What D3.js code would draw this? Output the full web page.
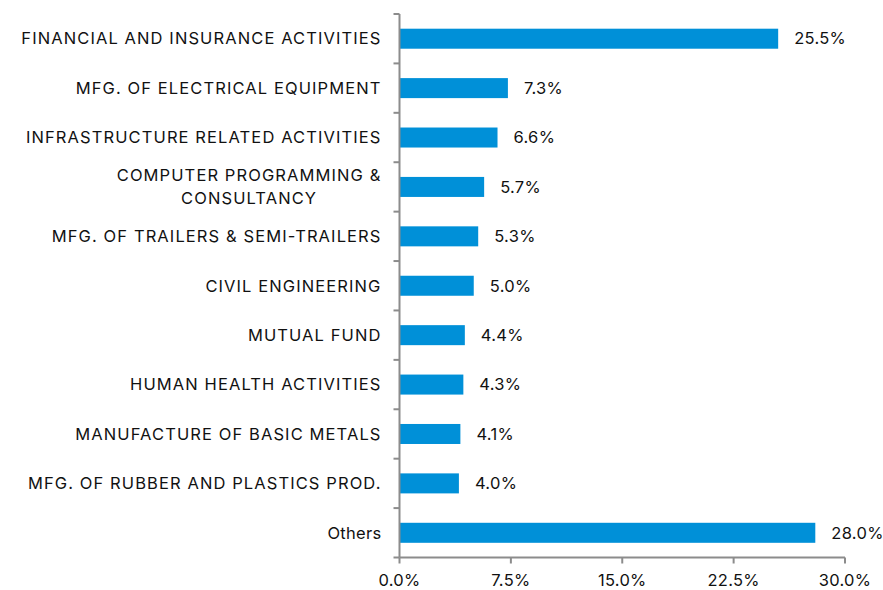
<!DOCTYPE html>
<html><head><meta charset="utf-8">
<script src="https://cdn.jsdelivr.net/npm/d3@7"></script>
<style>body{margin:0;background:#fff}svg{display:block}text{font-family:Inter,"Noto Sans",sans-serif;fill:#111}</style>
</head><body><svg id="c" width="883" height="590"></svg>
<script>
const categories = ["FINANCIAL AND INSURANCE ACTIVITIES","MFG. OF ELECTRICAL EQUIPMENT","INFRASTRUCTURE RELATED ACTIVITIES","COMPUTER PROGRAMMING &\nCONSULTANCY","MFG. OF TRAILERS & SEMI-TRAILERS","CIVIL ENGINEERING","MUTUAL FUND","HUMAN HEALTH ACTIVITIES","MANUFACTURE OF BASIC METALS","MFG. OF RUBBER AND PLASTICS PROD.","Others"];
const values = [25.5,7.3,6.6,5.7,5.3,5.0,4.4,4.3,4.1,4.0,28.0];
const xTicks = [0,7.5,15,22.5,30];

const svg = d3.select("#c");
const FS = 16.5;
const m = {l:399.5, r:845, t:14, b:557.5};
const x = d3.scaleLinear().domain([0,30]).range([m.l,m.r]);
const y = d3.scaleBand().domain(categories).range([m.t,m.b]).paddingInner(0.595).paddingOuter(0.2975);
const band = (m.b-m.t)/categories.length;

svg.selectAll("rect.bar").data(categories).join("rect")
  .attr("x", x(0)).attr("y", d=>y(d))
  .attr("width", (d,i)=>x(values[i])-x(0)).attr("height", y.bandwidth())
  .attr("fill","#0090d8");

svg.selectAll("text.val").data(categories).join("text")
  .attr("x",(d,i)=>x(values[i])+16).attr("y",d=>y(d)+y.bandwidth()/2)
  .attr("dy","0.35em").attr("font-size",FS).attr("letter-spacing","0.3px")
  .text((d,i)=>values[i].toFixed(1)+"%");

const gy = svg.append("g");
gy.append("line").attr("x1",m.l).attr("x2",m.l).attr("y1",m.t).attr("y2",m.b).attr("stroke","#8c8c8c").attr("stroke-width",2);
d3.range(categories.length+1).forEach(i=>{
  gy.append("line").attr("x1",m.l-6).attr("x2",m.l).attr("y1",m.t+i*band).attr("y2",m.t+i*band).attr("stroke","#8c8c8c").attr("stroke-width",2);
});
categories.forEach(c=>{
  const lines = c.split("\n");
  const cy = y(c)+y.bandwidth()/2;
  const upper = c === c.toUpperCase();
  const t = gy.append("text").attr("text-anchor","end").attr("font-size",FS)
    .attr("letter-spacing", upper ? "1.1px" : "0.3px");
  lines.forEach((ln,j)=>{
    t.append("tspan").attr("x", m.l-18)
     .attr("y", cy + (j-(lines.length-1)/2)*23).attr("dy","0.35em").text(ln);
  });
  if(lines.length>1){
    const w = t.node().getBBox().width;
    t.attr("text-anchor","middle");
    t.selectAll("tspan").attr("x", m.l-18-w/2);
  }
});

const gx = svg.append("g");
gx.append("line").attr("x1",m.l).attr("x2",m.r).attr("y1",m.b).attr("y2",m.b).attr("stroke","#8c8c8c").attr("stroke-width",2);
xTicks.forEach(v=>{
  gx.append("line").attr("x1",x(v)).attr("x2",x(v)).attr("y1",m.b).attr("y2",m.b+6).attr("stroke","#8c8c8c").attr("stroke-width",2);
  gx.append("text").attr("x",x(v)).attr("y",580).attr("dy","0.35em").attr("text-anchor","middle").attr("font-size",FS).attr("letter-spacing","0.3px").text(v.toFixed(1)+"%");
});
</script></body></html>
